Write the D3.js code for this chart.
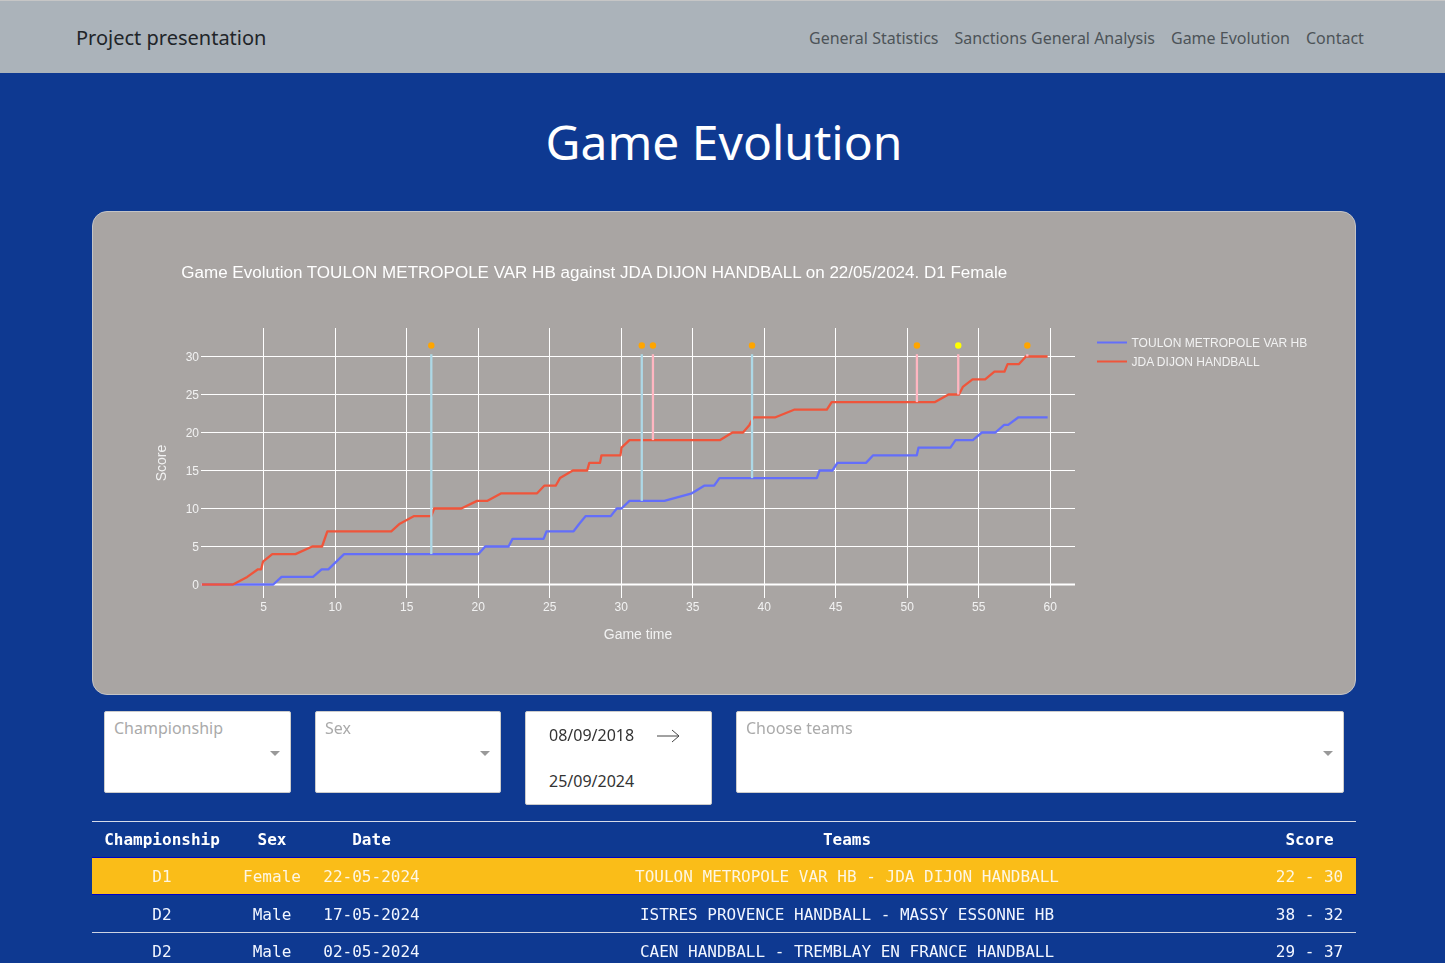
<!DOCTYPE html>
<html><head><meta charset="utf-8">
<script src="https://d3js.org/d3.v7.min.js"></script>
<style>
html,body{margin:0;padding:0;width:1445px;height:963px;overflow:hidden;background:#0e3991;font-family:"Noto Sans",sans-serif;}
.abs{position:absolute;box-sizing:border-box;}
#nav{left:0;top:0;width:1445px;height:73px;background:#abb3ba;border-top:1px solid #c6c6c6;}
#brand{left:76px;top:23px;font-size:20px;line-height:30px;color:#212529;}
.link{top:26px;font-size:16px;line-height:24px;color:#4d5358;white-space:nowrap;}
#h{left:0;top:108px;width:1448px;text-align:center;color:#fff;font-size:48px;line-height:68px;}
#card{left:92px;top:211px;width:1264px;height:484px;background:#a9a5a3;border:1px solid #c4c4c6;border-radius:15px;}
svg{position:absolute;left:0;top:0;}
#chart{will-change:transform;}
.box{background:#fff;border:1px solid #ccc;border-radius:2px;color:#aaa;font-size:16px;}
.ph{position:absolute;left:9px;top:5px;line-height:22px;}
.caret{position:absolute;top:39px;width:0;height:0;border-left:5px solid transparent;border-right:5px solid transparent;border-top:5px solid #999;}
.date{position:absolute;left:23px;color:#333;font-size:16px;line-height:24px;}
table{position:absolute;left:92px;top:821px;width:1264px;border-collapse:collapse;table-layout:fixed;font-family:"DejaVu Sans Mono",monospace;font-size:16px;color:#fff;}
th,td{text-align:center;padding:0;white-space:nowrap;overflow:hidden;}
th{height:35px;border-top:1px solid #d5dbe8;}
td{height:37px;}
tr.sel td{background:#fabd18;border-top:1px solid #0000c8;border-bottom:1px solid #0000c8;height:36px;color:#fdf6e3;}
tr.plain td{border-bottom:1px solid #ccd3e2;color:#f2f6ff;}
tr.plain:nth-child(2) td{height:36px;padding-top:1px;}
</style></head><body>
<div class="abs" id="nav"></div>
<div class="abs" id="brand">Project presentation</div>
<div class="abs link" style="left:809px">General Statistics</div>
<div class="abs link" style="left:954.4px">Sanctions General Analysis</div>
<div class="abs link" style="left:1171px">Game Evolution</div>
<div class="abs link" style="left:1306px">Contact</div>
<div class="abs" id="h">Game Evolution</div>
<div class="abs" id="card"></div>
<svg id="chart" width="1445" height="963"></svg>
<div class="abs box" style="left:104px;top:711px;width:187px;height:82px"><span class="ph">Championship</span><i class="caret" style="left:165px"></i></div>
<div class="abs box" style="left:315px;top:711px;width:186px;height:82px"><span class="ph">Sex</span><i class="caret" style="left:164px"></i></div>
<div class="abs box" style="left:525px;top:711px;width:187px;height:94px">
  <span class="date" style="top:11px">08/09/2018</span>
  <svg width="30" height="20" style="left:130px;top:14px"><path d="M1 10H23M16 4L23 10L16 16" fill="none" stroke="#444" stroke-width="1"/></svg>
  <span class="date" style="top:57px">25/09/2024</span>
</div>
<div class="abs box" style="left:736px;top:711px;width:608px;height:82px"><span class="ph">Choose teams</span><i class="caret" style="left:586px"></i></div>
<table id="tbl"></table>
<script>
const chartTitle = "Game Evolution TOULON METROPOLE VAR HB against JDA DIJON HANDBALL on 22/05/2024. D1 Female";
const homeName = "TOULON METROPOLE VAR HB";
const awayName = "JDA DIJON HANDBALL";
const homeTime = [0.64,5.65,6.23,8.43,9.03,9.5,10.6,20,20.47,22.1,22.38,24.55,24.76,26.65,27.05,27.5,29.25,29.67,30,30.56,33,34.92,35.78,36.48,36.85,43.66,43.85,44.75,45.1,47.1,47.6,50.65,50.77,53,53.36,54.57,55.2,56.15,56.76,57.04,57.76,59.8];
const homeScore = [0,0,1,1,2,2,4,4,5,5,6,6,7,7,8,9,9,10,10,11,11,12,13,13,14,14,15,15,16,16,17,17,18,18,19,19,20,20,21,21,22,22];
const awayTime = [0.64,2.83,3.83,4.58,4.8,4.93,5.58,7.2,8.38,9.06,9.43,13.9,14.5,15.5,16.7,16.9,18.8,19.9,20.6,21.6,24.1,24.6,25.4,25.7,26.6,27.6,27.75,28.5,28.6,29.93,30,30.56,36.9,37.76,38.5,38.95,39.23,40.77,42.07,44.36,44.7,51.93,52.87,53.6,53.87,54.55,55.43,56.08,56.78,57,57.8,58.28,59.8];
const awayScore = [0,0,1,2,2,3,4,4,5,5,7,7,8,9,9,10,10,11,11,12,12,13,13,14,15,15,16,16,17,17,18,19,19,20,20,21,22,22,23,23,24,24,25,25,26,27,27,28,28,29,29,30,30];
const eventTime = [16.7,31.42,32.2,39.13,50.66,53.55,58.38];
const eventBase = [4,11,19,14,24,25,30];
const eventLine = ["lightblue","lightblue","lightpink","lightblue","lightpink","lightpink","lightpink"];
const eventDot = ["orange","orange","orange","orange","orange","yellow","orange"];
const eventTop = 30.3, dotLevel = 31.45;
const xTicks = [5,10,15,20,25,30,35,40,45,50,55,60];
const yTicks = [0,5,10,15,20,25,30];
const tableHead = ["Championship","Sex","Date","Teams","Score"];
const colWidths = [140,80,119,832,93];
const rowChamp = ["D1","D2","D2"];
const rowSex = ["Female","Male","Male"];
const rowDate = ["22-05-2024","17-05-2024","02-05-2024"];
const rowTeams = ["TOULON METROPOLE VAR HB - JDA DIJON HANDBALL","ISTRES PROVENCE HANDBALL - MASSY ESSONNE HB","CAEN HANDBALL - TREMBLAY EN FRANCE HANDBALL"];
const rowScore = ["22 - 30","38 - 32","29 - 37"];

const x = d3.scaleLinear().domain([0.63,61.75]).range([201.5,1075.5]);
const y = d3.scaleLinear().domain([0,33.75]).range([584.5,328]);
const svg = d3.select("#chart");
const txt = "#f2f2f2";
svg.append("text").attr("x",181.3).attr("y",278).attr("fill","#fff").style("font","17.03px 'Liberation Sans'").text(chartTitle);

const gx = svg.append("g").attr("transform","translate(0,584.5)").call(d3.axisBottom(x).tickValues(xTicks).tickSize(-256.5).tickPadding(26.5).offset(-0.3));
const gy = svg.append("g").attr("transform","translate(201,0)").call(d3.axisLeft(y).tickValues(yTicks).tickSize(-874).tickPadding(2).offset(0));
[gx,gy].forEach(g=>{
  g.select(".domain").remove();
  g.selectAll("line").attr("stroke","#fff").attr("stroke-width",1).attr("shape-rendering","crispEdges");
  g.selectAll("text").attr("fill",txt).style("font","12px 'Liberation Sans'");
});
gx.selectAll("line").attr("y1",13);
gx.selectAll("text").attr("dy","0");
gy.selectAll("text").attr("dy","4");
svg.append("line").attr("x1",201).attr("x2",1075).attr("y1",y(0)).attr("y2",y(0)).attr("stroke","#fff").attr("stroke-width",2);
svg.append("text").attr("x",638).attr("y",639).attr("text-anchor","middle").attr("fill",txt).style("font","14px 'Liberation Sans'").text("Game time");
svg.append("text").attr("transform","translate(166,463) rotate(-90)").attr("text-anchor","middle").attr("fill",txt).style("font","14px 'Liberation Sans'").text("Score");

const line = d3.line().x(d=>x(d[0])).y(d=>y(d[1]));
const series = [[homeTime,homeScore,"#636efa"],[awayTime,awayScore,"#ef553b"]];
series.forEach(([t,s,c])=>{
  svg.append("path").datum(d3.zip(t,s)).attr("d",line).attr("fill","none").attr("stroke",c).attr("stroke-width",2.3).attr("stroke-linejoin","round");
});
eventTime.forEach((t,i)=>{
  svg.append("line").attr("x1",x(t)).attr("x2",x(t)).attr("y1",y(eventBase[i])).attr("y2",y(eventTop)).attr("stroke",eventLine[i]).attr("stroke-width",2.3);
  svg.append("circle").attr("cx",x(t)).attr("cy",y(dotLevel)).attr("r",3.2).attr("fill",eventDot[i]);
});
[[homeName,"#636efa",342.5],[awayName,"#ef553b",361.5]].forEach(([n,c,yy])=>{
  svg.append("line").attr("x1",1097).attr("x2",1127).attr("y1",yy).attr("y2",yy).attr("stroke",c).attr("stroke-width",2);
  svg.append("text").attr("x",1131.5).attr("y",yy+4).attr("fill",txt).style("font","12.02px 'Liberation Sans'").text(n);
});

const tbl = d3.select("#tbl");
tbl.append("colgroup").selectAll("col").data(colWidths).join("col").style("width",d=>d+"px");
tbl.append("thead").append("tr").selectAll("th").data(tableHead).join("th").text(d=>d);
const rows = d3.zip(rowChamp,rowSex,rowDate,rowTeams,rowScore);
tbl.append("tbody").selectAll("tr").data(rows).join("tr").attr("class",(d,i)=>i==0?"sel":"plain")
  .selectAll("td").data(d=>d).join("td").text(d=>d);
</script>
</body></html>
